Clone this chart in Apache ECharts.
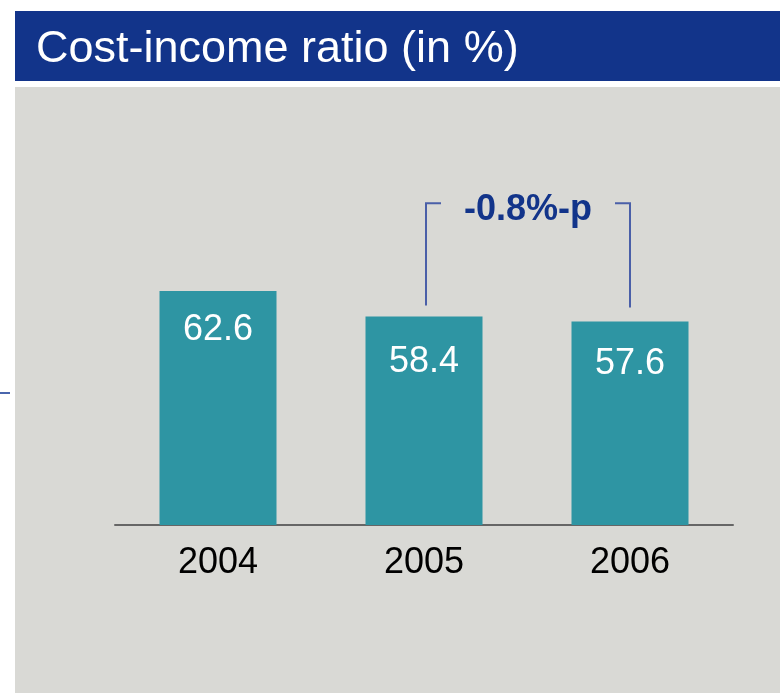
<!DOCTYPE html>
<html>
<head>
<meta charset="utf-8">
<style>
  html, body { margin: 0; padding: 0; background: #ffffff; }
  #chart { width: 780px; height: 693px; }
</style>
<script src="https://cdn.jsdelivr.net/npm/echarts@6/dist/echarts.min.js"></script>
</head>
<body>
<div id="chart"></div>
<script>
// Cost-income ratio by year, in percent
const years = ['2004', '2005', '2006'];
const ratios = [62.6, 58.4, 57.6];
// Gap in pixels between each bar top and the top of its value label
const labelGap = [22, 28, 26];

const FONT = '"Liberation Sans", Arial, sans-serif';
const NAVY = '#12348a';
const TEAL = '#2e95a3';

// Change between the last two years, shown over the bracket
const change = ratios[2] - ratios[1];
const changeText = (change > 0 ? '+' : '') + change.toFixed(1) + '%-p';

const chart = echarts.init(document.getElementById('chart'), null, { renderer: 'canvas' });

chart.setOption({
  backgroundColor: '#ffffff',
  animation: false,
  graphic: [
    { type: 'rect', z: -10, shape: { x: 15, y: 11, width: 765, height: 70 }, style: { fill: NAVY } },
    { type: 'rect', z: -10, shape: { x: 15, y: 87, width: 765, height: 606 }, style: { fill: '#d9d9d5' } },
    { type: 'rect', z: -10, shape: { x: 0, y: 392, width: 10, height: 2 }, style: { fill: '#4a66ad' } },
    {
      type: 'text', left: 36, top: 27,
      style: { text: 'Cost-income ratio (in %)', fill: '#ffffff', font: '45px ' + FONT }
    }
  ],
  grid: { left: 115, right: 47, top: 185, bottom: 168 },
  xAxis: {
    type: 'category',
    data: years,
    axisLine: { lineStyle: { color: '#666666', width: 2 } },
    axisTick: { show: false },
    axisLabel: { color: '#000000', fontFamily: FONT, fontSize: 36, margin: 20 }
  },
  yAxis: {
    type: 'value',
    min: 24.2,
    max: 80,
    show: false,
    splitLine: { show: false }
  },
  series: [
    {
      type: 'bar',
      clip: true,
      barWidth: 117,
      itemStyle: { color: TEAL },
      data: ratios.map((v, i) => ({
        value: v,
        label: { distance: labelGap[i] - 1 }
      })),
      label: {
        show: true,
        position: 'insideTop',
        color: '#ffffff',
        fontFamily: FONT,
        fontSize: 36,
        formatter: p => p.value.toFixed(1)
      }
    },
    {
      // Bracket linking the 2005 and 2006 bars, with the change written over it
      type: 'custom',
      coordinateSystem: 'cartesian2d',
      silent: true,
      data: [[1, 2]],
      renderItem: (params, api) => {
        const topValue = 77;
        const a = api.coord([years[1], ratios[1]]);
        const b = api.coord([years[2], ratios[2]]);
        const top = api.coord([years[1], topValue])[1];
        const x1 = a[0] + 2;
        const x2 = b[0];
        const lineStyle = { stroke: '#4a5fa8', lineWidth: 2, fill: null };
        return {
          type: 'group',
          children: [
            { type: 'polyline', shape: { points: [[x1, a[1] - 11], [x1, top], [x1 + 15, top]] }, style: lineStyle },
            { type: 'polyline', shape: { points: [[x2 - 15, top], [x2, top], [x2, b[1] - 14]] }, style: lineStyle },
            {
              type: 'text',
              x: (x1 + x2) / 2,
              y: top + 25,
              style: {
                text: changeText,
                fill: NAVY,
                font: 'bold 36px ' + FONT,
                align: 'center',
                verticalAlign: 'bottom'
              }
            }
          ]
        };
      }
    }
  ]
});
</script>
</body>
</html>
